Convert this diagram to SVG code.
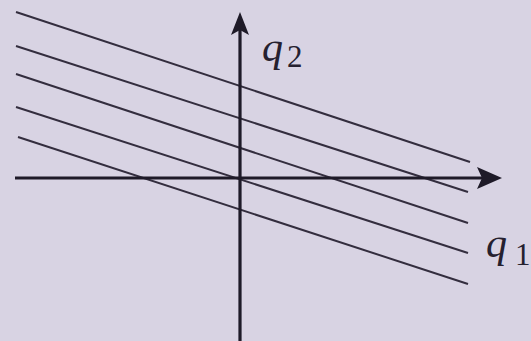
<svg xmlns="http://www.w3.org/2000/svg" width="531" height="341" viewBox="0 0 531 341">
<style>
.line{stroke:#332d3e;stroke-width:2;fill:none}
.axis{stroke:#1e1a28;stroke-width:3.2;fill:none}
.lbl{font-family:"Liberation Serif","DejaVu Serif",serif;font-style:italic;fill:#25202f}
.sub{font-family:"Liberation Serif","DejaVu Serif",serif;fill:#25202f}
</style>
<rect width="531" height="341" fill="#d8d3e3"/>
<g id="lines">
<line class="line" x1="16" y1="12" x2="470" y2="162"/>
<line class="line" x1="16" y1="46" x2="468" y2="192"/>
<line class="line" x1="16" y1="74" x2="468" y2="223"/>
<line class="line" x1="16" y1="107" x2="468" y2="253"/>
<line class="line" x1="18" y1="137" x2="468" y2="284"/>
</g>
<g id="axes">
<line class="axis" x1="15" y1="178" x2="484" y2="178"/>
<path d="M502,178 L477,167 L482,178 L477,189 Z" fill="#1e1a28"/>
<line class="axis" x1="240" y1="341" x2="240" y2="30"/>
<path d="M240,12 L231,35 L240,30 L249,35 Z" fill="#1e1a28"/>
</g>
<g id="label-q2">
<text class="lbl" x="262" y="61" font-size="42">q</text>
<text class="sub" x="287" y="67" font-size="31">2</text>
</g>
<g id="label-q1">
<text class="lbl" x="486" y="257" font-size="42">q</text>
<text class="sub" x="515" y="265" font-size="31">1</text>
</g>
</svg>
